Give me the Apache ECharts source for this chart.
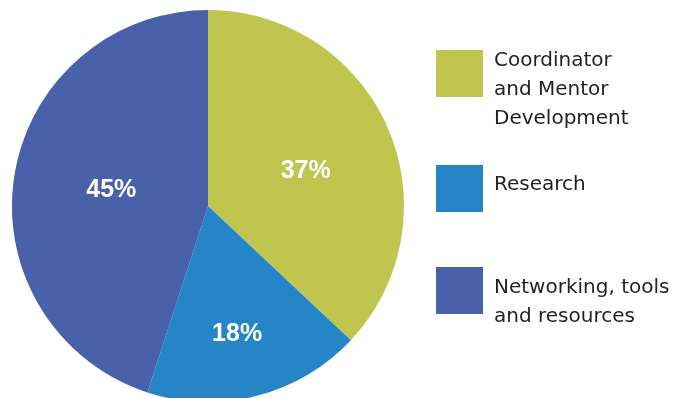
<!DOCTYPE html>
<html><head><meta charset="utf-8">
<script src="https://cdn.jsdelivr.net/npm/echarts@6/dist/echarts.min.js"></script>
<style>html,body{margin:0;padding:0;background:#fff}#c{width:692px;height:398px}</style>
</head><body><div id="c"></div>
<script>
var categories = ['Coordinator\nand Mentor\nDevelopment', 'Research', 'Networking, tools\nand resources'];
var values = [37, 18, 45];
var colors = ['#BFC54E', '#2585C7', '#4960AB'];

var legendTops = [50, 165, 267];
var textTops = [46, 170, 273];

var graphics = [];
categories.forEach(function (name, i) {
  graphics.push({type: 'rect', left: 436, top: legendTops[i], shape: {width: 47, height: 47}, style: {fill: colors[i]}});
  graphics.push({type: 'text', left: 494, top: textTops[i], style: {text: name, fill: '#231F20', font: '20px "DejaVu Sans"', lineHeight: 29}});
});

var chart = echarts.init(document.getElementById('c'), null, {renderer: 'canvas'});
chart.setOption({
  animation: false,
  graphic: graphics,
  series: [{
    type: 'pie',
    center: [208, 206],
    radius: 196,
    startAngle: 90,
    clockwise: true,
    label: {
      position: 'inside',
      color: '#fff',
      fontFamily: 'Liberation Sans',
      fontWeight: 'bold',
      fontSize: 25,
      formatter: function (p) { return p.value + '%'; }
    },
    labelLine: {show: false},
    emphasis: {disabled: true},
    itemStyle: {borderWidth: 0},
    data: values.map(function (v, i) {
      var d = {name: categories[i], value: v, itemStyle: {color: colors[i]}};
      if (i === 0) d.label = {offset: [5, 5]};
      if (i === 1) d.label = {offset: [4, 30]};
      if (i === 2) d.label = {offset: [3, 0]};
      return d;
    })
  }]
});
</script></body></html>
